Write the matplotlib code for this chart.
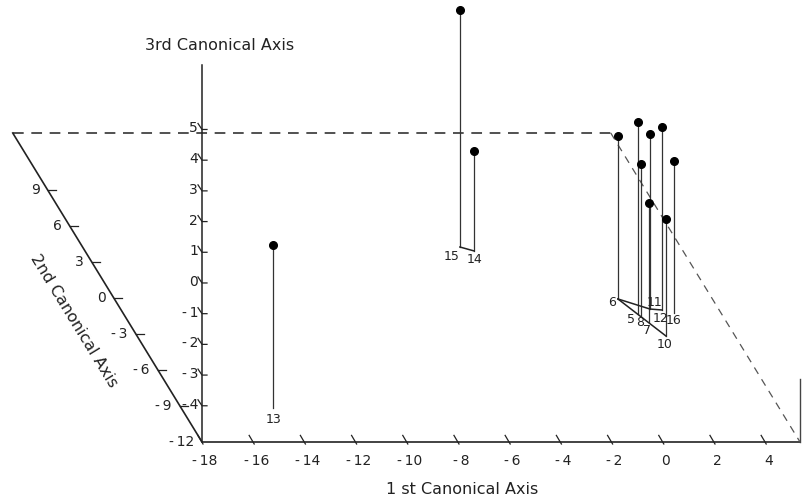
import matplotlib
matplotlib.use("Agg")
import matplotlib.pyplot as plt
import numpy as np

# canonical scores of the groups (1st, 2nd, 3rd axis)
labels = ["5", "6", "7", "8", "10", "11", "12", "13", "14", "15", "16"]
axis1 = [2.09, 1.67, 2.33, 2.16, 2.66, 2.68, 3.13, -14.41, -2.80, -3.26, 3.52]
axis2 = [-1.33, -0.08, -2.00, -1.50, -3.17, -0.92, -1.00, -9.17, 3.92, 4.25, -1.25]
axis3 = [1.07, 0.13, -1.30, -0.23, -1.37, 0.52, 0.78, 0.13, -1.92, 2.54, -0.23]

# floor links between groups
links = [("6", "11"), ("11", "12"), ("6", "10"), ("15", "14")]

x_ticks = [-18, -16, -14, -12, -10, -8, -6, -4, -2, 0, 2, 4]
y_ticks = [-12, -9, -6, -3, 0, 3, 6, 9]
z_ticks = [-4, -3, -2, -1, 0, 1, 2, 3, 4, 5]

# box extent
X_MIN, X_MAX = -18, 5.36
Y_MIN, Y_MAX = -12, 13.75
Z_FLOOR, Z_TOP = -5.18, 7.1

# oblique projection onto the page (pixels, y downwards)
OX, OY = 202, 442
SX, SY_X, SY_Y, SZ = 25.6, 7.35, 12.0, 30.7


def proj(x, y, z):
    x, y, z = np.asarray(x, float), np.asarray(y, float), np.asarray(z, float)
    px = OX + SX * (x - X_MIN) - SY_X * (y - Y_MIN)
    py = OY - SY_Y * (y - Y_MIN) - SZ * (z - Z_FLOOR)
    return px, py


def fmt(t):
    return f"{t}".replace("-", "-\u2009")


ink = "#222222"
fig = plt.figure(figsize=(8.02, 5.03), dpi=100)
ax = fig.add_axes([0, 0, 1, 1])
ax.set_xlim(0, 802)
ax.set_ylim(503, 0)
ax.axis("off")
font = dict(family="DejaVu Sans", color=ink)

# floor: solid front edges, dashed back edges
p = proj([X_MAX, X_MIN, X_MIN], [Y_MIN, Y_MIN, Y_MAX], [Z_FLOOR] * 3)
ax.plot(p[0], p[1], color=ink, lw=1.2)
p = proj([X_MIN, X_MAX, X_MAX], [Y_MAX, Y_MAX, Y_MIN], [Z_FLOOR] * 3)
ax.plot(p[0][:2], p[1][:2], color=ink, lw=1.1, dashes=(7, 5))
ax.plot(p[0][1:], p[1][1:], color="#555555", lw=0.9, dashes=(6, 5))

# vertical axes
p = proj([X_MIN, X_MIN], [Y_MIN, Y_MIN], [Z_FLOOR, Z_TOP])
ax.plot(p[0], p[1], color=ink, lw=1.1)
p = proj([X_MAX, X_MAX], [Y_MIN, Y_MIN], [Z_FLOOR, Z_FLOOR + 2.05])
ax.plot(p[0], p[1], color="#444444", lw=1.0)

# 1st axis ticks
for t in x_ticks:
    a = proj(t, Y_MIN, Z_FLOOR)
    b = proj(t, Y_MIN + 0.55, Z_FLOOR)
    ax.plot([a[0] + 1, b[0]], [a[1] + 2, b[1]], color=ink, lw=0.9)
    ax.text(a[0] + 3, a[1] + 12, fmt(t), ha="center", va="top", fontsize=10, **font)

# 2nd axis ticks
for t in y_ticks:
    a = proj(X_MIN, t, Z_FLOOR)
    if t > Y_MIN:
        ax.plot([a[0], a[0] + 8], [a[1], a[1]], color=ink, lw=0.9)
    ax.text(a[0] - 8, a[1], fmt(t), ha="right", va="center", fontsize=10, **font)

# 3rd axis ticks
for t in z_ticks:
    a = proj(X_MIN, Y_MIN, t)
    ax.plot([a[0] - 4, a[0], a[0] + 5], [a[1] - 6, a[1], a[1]], color=ink, lw=0.9)
    ax.text(a[0] - 4, a[1] - 1, fmt(t), ha="right", va="center", fontsize=10, **font)

ax.text(220, 45, "3rd Canonical Axis", ha="center", va="center", fontsize=11.5, **font)
ax.text(462, 490, "1 st Canonical Axis", ha="center", va="center", fontsize=11.5, **font)
ang = np.degrees(np.arctan2(SY_Y, SY_X))
ax.text(74, 321, "2nd Canonical Axis", ha="center", va="center", rotation=-ang,
        rotation_mode="anchor", fontsize=11.5, **font)

# drop lines from floor to each score
fx, fy = proj(axis1, axis2, [Z_FLOOR] * len(labels))
dx, dy = proj(axis1, axis2, axis3)
for i in range(len(labels)):
    ax.plot([fx[i], dx[i]], [fy[i], dy[i]], color="#333333", lw=0.9)
ax.plot(dx, dy, "o", color="black", ms=5.5, zorder=5)

idx = {lab: i for i, lab in enumerate(labels)}
for a, b in links:
    i, j = idx[a], idx[b]
    ax.plot([fx[i], fx[j]], [fy[i], fy[j]], color=ink, lw=1.1)

label_offsets = {"5": (-7, 6), "6": (-6, 4), "7": (-2, 9), "8": (-1, 7), "10": (-1, 8),
                 "11": (5, -7), "12": (-2, 8), "13": (0, 11), "14": (0, 9),
                 "15": (-8, 10), "16": (0, 8)}
for i, lab in enumerate(labels):
    ox, oy = label_offsets[lab]
    ax.text(fx[i] + ox, fy[i] + oy, lab, ha="center", va="center", fontsize=9, **font)

fig.savefig("out.png", dpi=100)
plt.close(fig)
